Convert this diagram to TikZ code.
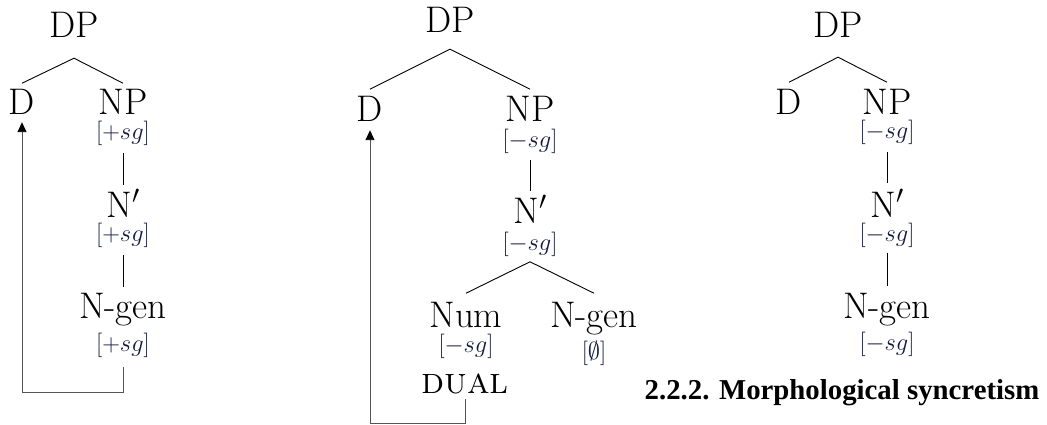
\RequirePackage{fix-cm}
\documentclass[tikz,border=0pt]{standalone}
\usepackage{fontspec}
\newfontfamily\capfont{Liberation Serif}
\usetikzlibrary{arrows.meta}
\definecolor{featblue}{RGB}{18,26,66}
\definecolor{movegray}{RGB}{85,85,85}
\tikzset{
  cat/.style={font=\fontsize{37}{42}\selectfont, inner sep=0pt, anchor=base},
  feat/.style={font=\fontsize{24.5}{28}\selectfont, text=featblue, inner sep=0pt, anchor=base},
  branch/.style={draw=black, line width=0.9pt},
  movement/.style={draw=movegray, line width=0.9pt, -{Triangle[length=10pt,width=9pt,fill=black,color=black]}},
  caption/.style={font=\capfont\bfseries\fontsize{28.8}{32}\selectfont, inner sep=0pt, anchor=base}
}
\begin{document}
\begin{tikzpicture}[x=1pt,y=-1pt]
\useasboundingbox (0,0) rectangle (1047,425);

% ---------- Tree 1 ----------
\node[cat] (dp1) at (74,38) {DP};
\node[cat] (d1) at (22,115) {D};
\node[cat] (np1) at (123,115) {NP};
\node[feat] (f1a) at (123,140) {[$+sg$]};
\node[cat] (nb1) at (123,217) {N$'$};
\node[feat] (f1b) at (123,241) {[$+sg$]};
\node[cat] (ng1) at (123,318) {N-gen};
\node[feat] (f1c) at (123,351) {[$+sg$]};
\coordinate (a1) at ([yshift=-20pt]dp1.south);
\draw[branch] ([yshift=6.3pt]d1.north) -- (a1) -- ([yshift=6.3pt]np1.north);
\draw[branch] ([yshift=-6.5pt]f1a.south) -- ([yshift=4pt]nb1.north);
\draw[branch] ([yshift=-7.5pt]f1b.south) -- ([yshift=5.3pt]ng1.north);
\draw[movement] ([yshift=-9.5pt]f1c.south) -- ++(0pt,-26pt) -| ([yshift=-7pt]d1.south);

% ---------- Tree 2 ----------
\node[cat] (dp2) at (450,33) {DP};
\node[cat] (d2) at (370,122) {D};
\node[cat] (np2) at (530,122) {NP};
\node[feat] (f2a) at (530,148) {[$-sg$]};
\node[cat] (nb2) at (530,223) {N$'$};
\node[feat] (f2b) at (530,250) {[$-sg$]};
\node[cat] (num2) at (466,327) {Num};
\node[cat] (ng2) at (594,327) {N-gen};
\node[feat] (f2c) at (466,352) {[$-sg$]};
\node[feat] (f2d) at (594,359) {[$\emptyset$]};
\node[cat] (dual2) at (465,393) {\textsc{dual}};
\coordinate (a2) at ([yshift=-16pt]dp2.south);
\draw[branch] ([yshift=7.3pt]d2.north) -- (a2) -- ([yshift=7.3pt]np2.north);
\draw[branch] ([yshift=-5.5pt]f2a.south) -- ([yshift=4pt]nb2.north);
\coordinate (b2) at ([yshift=-5.5pt]f2b.south);
\draw[branch] ([yshift=8.3pt]num2.north) -- (b2) -- ([yshift=8.3pt]ng2.north);
\draw[movement] ([yshift=-5pt]dual2.south) -- ++(0pt,-25pt) -| ([yshift=-8pt]d2.south);

% ---------- Tree 3 ----------
\node[cat] (dp3) at (838,38) {DP};
\node[cat] (d3) at (789,115) {D};
\node[cat] (np3) at (887,115) {NP};
\node[feat] (f3a) at (887,139) {[$-sg$]};
\node[cat] (nb3) at (887,217) {N$'$};
\node[feat] (f3b) at (887,241) {[$-sg$]};
\node[cat] (ng3) at (887,318) {N-gen};
\node[feat] (f3c) at (887,350) {[$-sg$]};
\coordinate (a3) at ([yshift=-19pt]dp3.south);
\draw[branch] ([yshift=7.3pt]d3.north) -- (a3) -- ([yshift=7.3pt]np3.north);
\draw[branch] ([yshift=-6.5pt]f3a.south) -- ([yshift=6pt]nb3.north);
\draw[branch] ([yshift=-5.5pt]f3b.south) -- ([yshift=6.3pt]ng3.north);

% ---------- Caption ----------
\node[caption] (cap) at (842,399) {2.2.2. Morphological syncretism};
\end{tikzpicture}
\end{document}
